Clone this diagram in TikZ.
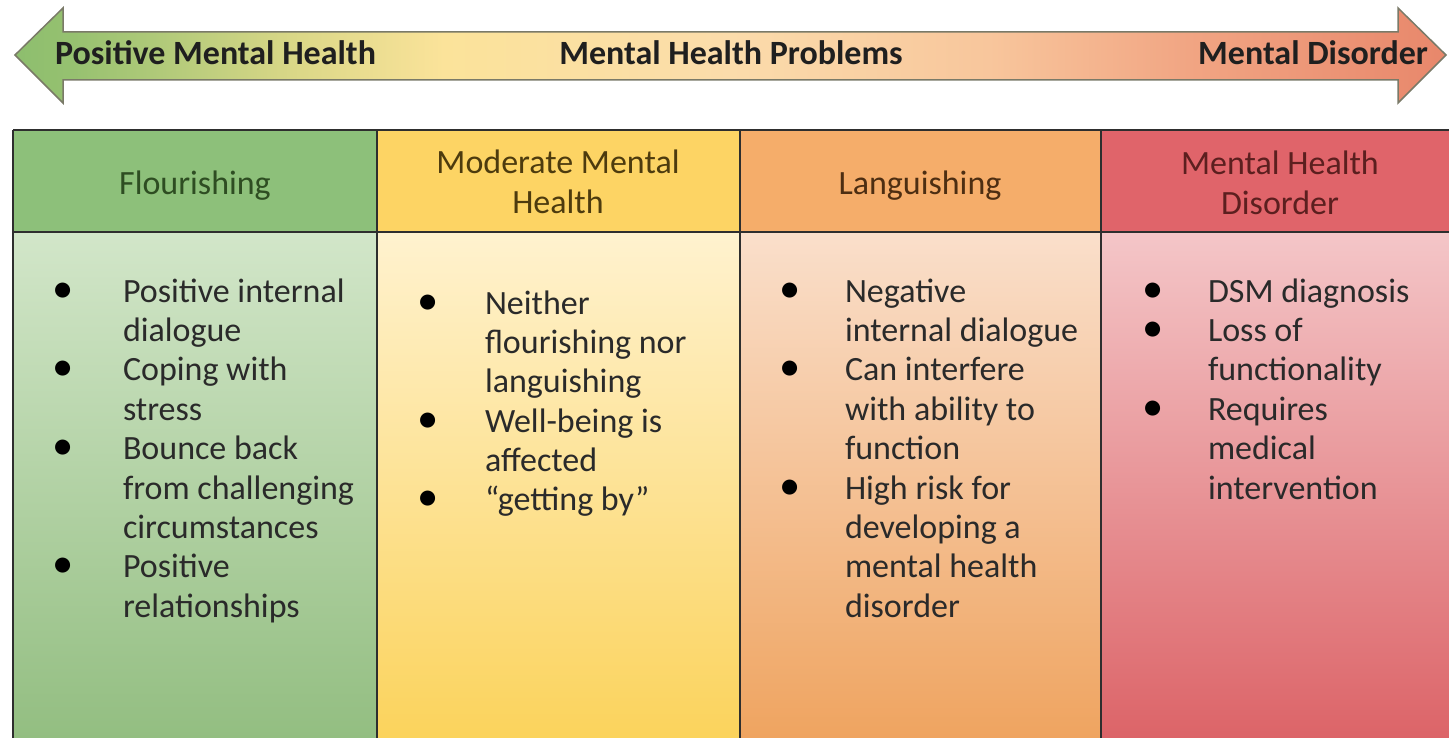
\documentclass[tikz,border=0pt]{standalone}
\usepackage{fontspec}
\setmainfont{Carlito}
\definecolor{hgreen}{HTML}{8DC07A}
\definecolor{hyellow}{HTML}{FDD464}
\definecolor{horange}{HTML}{F5AD6A}
\definecolor{hred}{HTML}{E0646A}
\definecolor{bgreenT}{HTML}{D2E6C9}
\definecolor{bgreenB}{HTML}{93BE81}
\definecolor{byellowT}{HTML}{FFF2CF}
\definecolor{byellowB}{HTML}{FBD35C}
\definecolor{borangeT}{HTML}{FADFCB}
\definecolor{borangeB}{HTML}{EFA460}
\definecolor{bredT}{HTML}{F4C6C8}
\definecolor{bredB}{HTML}{DC6468}
\definecolor{tgreen}{HTML}{2E4D22}
\definecolor{tyellow}{HTML}{4D3B0E}
\definecolor{torange}{HTML}{4D2E12}
\definecolor{tred}{HTML}{5C1F1F}
\definecolor{bodytext}{HTML}{2A2A2A}
\definecolor{gridline}{HTML}{2E2E2E}
\definecolor{arrowborder}{HTML}{7A7A68}
\definecolor{sA}{HTML}{8DBE6E}
\definecolor{sB}{HTML}{96C170}
\definecolor{sC}{HTML}{DCD888}
\definecolor{sD}{HTML}{FBE39A}
\definecolor{sE}{HTML}{FBDCAB}
\definecolor{sF}{HTML}{F8C69C}
\definecolor{sG}{HTML}{F1A583}
\definecolor{sH}{HTML}{E8876B}
\pgfdeclarehorizontalshading{spectrumshade}{100bp}{color(0bp)=(sA); color(25bp)=(sA); color(27bp)=(sB); color(35bp)=(sC); color(40bp)=(sD); color(50bp)=(sE); color(59bp)=(sF); color(66bp)=(sG); color(75bp)=(sH); color(100bp)=(sH)}
\newcommand{\bul}{\makebox[24pt][c]{\color{black}\scalebox{1.25}{\textbullet}}}
\begin{document}
\begin{tikzpicture}[x=1pt,y=-1pt,
  every node/.style={inner sep=0pt, outer sep=0pt},
  cell/.style={anchor=north west, inner sep=0pt, draw=none},
  hdrtext/.style={font=\fontsize{34}{40}\selectfont, anchor=base},
  bodytxt/.style={font=\fontsize{34}{39.4}\selectfont, text=bodytext, anchor=base west},
  arrowtext/.style={font=\fontsize{34}{40}\selectfont\bfseries, text=black!88},
  gridl/.style={draw=gridline, line width=2pt}]
\useasboundingbox (0,0) rectangle (1449,738);
% double arrow
\shadedraw[shading=spectrumshade, draw=arrowborder, line width=1.5pt, line join=miter]
  (15,55) -- (63,8) -- (63,32) -- (1398,32) -- (1398,8) -- (1446,55)
  -- (1398,103) -- (1398,80) -- (63,80) -- (63,103) -- cycle;
\node[arrowtext, anchor=base west] (lpos) at (55,65) {Positive Mental Health};
\node[arrowtext, anchor=base] (lmid) at (731,65) {Mental Health Problems};
\node[arrowtext, anchor=base east] (lneg) at (1428,65) {Mental Disorder};
% header cells
\node[cell, fill=hgreen, minimum width=364pt, minimum height=102pt] (h1) at (13,130) {};
\node[cell, fill=hyellow, minimum width=363pt, minimum height=102pt] (h2) at (377,130) {};
\node[cell, fill=horange, minimum width=361pt, minimum height=102pt] (h3) at (740,130) {};
\node[cell, fill=hred, minimum width=350pt, minimum height=102pt] (h4) at (1101,130) {};
% body cells
\node[cell, top color=bgreenT, bottom color=bgreenB, minimum width=364pt, minimum height=506pt] (b1) at (13,232) {};
\node[cell, top color=byellowT, bottom color=byellowB, minimum width=363pt, minimum height=506pt] (b2) at (377,232) {};
\node[cell, top color=borangeT, bottom color=borangeB, minimum width=361pt, minimum height=506pt] (b3) at (740,232) {};
\node[cell, top color=bredT, bottom color=bredB, minimum width=350pt, minimum height=506pt] (b4) at (1101,232) {};
% grid lines
\draw[gridl] (h1.north west) -- (h4.north east);
\draw[gridl] (h1.south west) -- (h4.south east);
\draw[gridl] (h1.north west) -- (b1.south west);
\draw[gridl] (h2.north west) -- (b2.south west);
\draw[gridl] (h3.north west) -- (b3.south west);
\draw[gridl] (h4.north west) -- (b4.south west);
% header texts
\node[hdrtext, text=tgreen] (t1) at (195,195) {Flourishing};
\node[hdrtext, text=tyellow] (t2) at (558,174) {\begin{tabular}[t]{@{}c@{}}Moderate Mental\\Health\end{tabular}};
\node[hdrtext, text=torange] (t3) at (920,195) {Languishing};
\node[hdrtext, text=tred] (t4) at (1280,175) {\begin{tabular}[t]{@{}c@{}}Mental Health\\Disorder\end{tabular}};
% body texts
\node[bodytxt] (x1) at (51,302) {\begin{tabular}[t]{@{}l@{\hspace{48pt}}l@{}}
\bul & Positive internal\\
 & dialogue\\
\bul & Coping with\\
 & stress\\
\bul & Bounce back\\
 & from challenging\\
 & circumstances\\
\bul & Positive\\
 & relationships
\end{tabular}};
\node[bodytxt] (x2) at (416,314) {\begin{tabular}[t]{@{}l@{\hspace{45pt}}l@{}}
\bul & Neither\\
 & flourishing nor\\
 & languishing\\
\bul & Well-being is\\
 & affected\\
\bul & “getting by”
\end{tabular}};
\node[bodytxt] (x3) at (778,302) {\begin{tabular}[t]{@{}l@{\hspace{43pt}}l@{}}
\bul & Negative\\
 & internal dialogue\\
\bul & Can interfere\\
 & with ability to\\
 & function\\
\bul & High risk for\\
 & developing a\\
 & mental health\\
 & disorder
\end{tabular}};
\node[bodytxt] (x4) at (1141,302) {\begin{tabular}[t]{@{}l@{\hspace{43pt}}l@{}}
\bul & DSM diagnosis\\
\bul & Loss of\\
 & functionality\\
\bul & Requires\\
 & medical\\
 & intervention
\end{tabular}};
\end{tikzpicture}
\end{document}
